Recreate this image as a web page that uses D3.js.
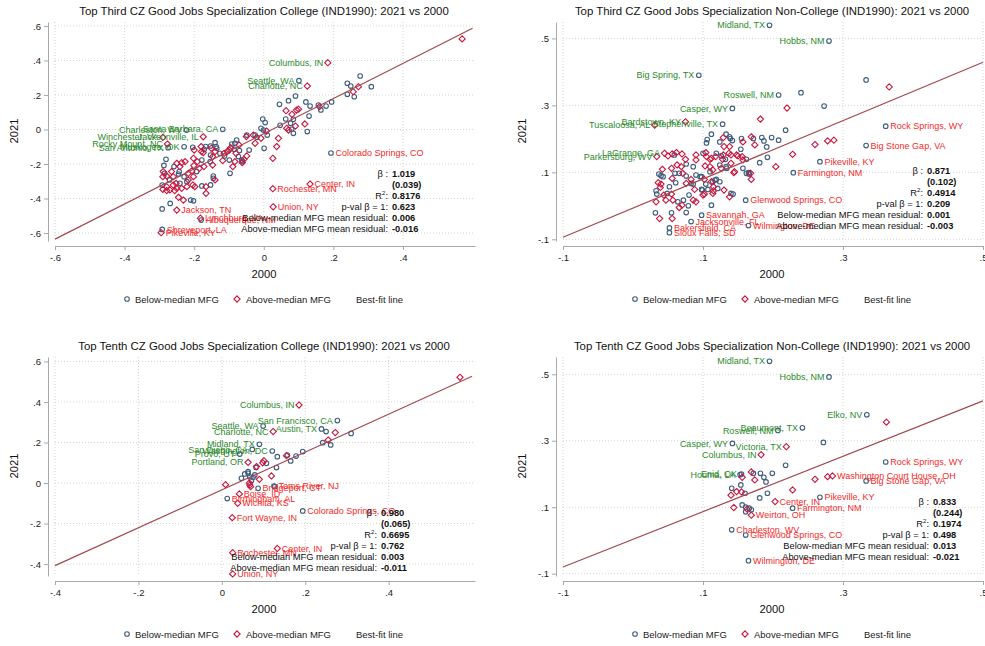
<!DOCTYPE html>
<html>
<head>
<meta charset="utf-8">
<script src="https://cdn.jsdelivr.net/npm/d3@7"></script>
<style>
  body { margin: 0; background: #fff; }
  svg { display: block; }
</style>
</head>
<body>
<svg id="chart" width="985" height="646"></svg>
<script>
// ---- data -------------------------------------------------------------
const titles = [
  "Top Third CZ Good Jobs Specialization College (IND1990): 2021 vs 2000",
  "Top Third CZ Good Jobs Specialization Non-College (IND1990): 2021 vs 2000",
  "Top Tenth CZ Good Jobs Specialization College (IND1990): 2021 vs 2000",
  "Top Tenth CZ Good Jobs Specialization Non-College (IND1990): 2021 vs 2000"
];
const xTitle = "2000";
const yTitle = "2021";
const legendLabels = ["Below-median MFG", "Above-median MFG", "Best-fit line"];
const statNames = ["β :", "", "R2:", "p-val β = 1:", "Below-median MFG mean residual:", "Above-median MFG mean residual:"];

const p1XTicks = [-0.6, -0.4, -0.2, 0, 0.2, 0.4];
const p1YTicks = [-0.6, -0.4, -0.2, 0, 0.2, 0.4, 0.6];
const p2XTicks = [-0.1, 0.1, 0.3, 0.5];
const p2YTicks = [-0.1, 0.1, 0.3, 0.5];
const p3XTicks = [-0.4, -0.2, 0, 0.2, 0.4];
const p3YTicks = [-0.4, -0.2, 0, 0.2, 0.4, 0.6];
const p4XTicks = [-0.1, 0.1, 0.3, 0.5];
const p4YTicks = [-0.1, 0.1, 0.3, 0.5];

const p1Stats = ["1.019", "(0.039)", "0.8176", "0.623", "0.006", "-0.016"];
const p2Stats = ["0.871", "(0.102)", "0.4914", "0.209", "0.001", "-0.003"];
const p3Stats = ["0.980", "(0.065)", "0.6695", "0.762", "0.003", "-0.011"];
const p4Stats = ["0.833", "(0.244)", "0.1974", "0.498", "0.013", "-0.021"];

// best-fit line end points [x, y]
const p1Fit = [[-0.6, -0.635], [0.6, 0.587]];
const p2Fit = [[-0.1, -0.094], [0.5, 0.429]];
const p3Fit = [[-0.4, -0.408], [0.6, 0.527]];
const p4Fit = [[-0.1, -0.080], [0.5, 0.420]];

// unlabeled CZs [x2000, y2021]
const p1Below = [
  [0.045,0.146],[0.071,0.167],[0.063,0.061],[-0.003,0.061],[0.004,0.04],[-0.008,0.007],[-0.025,-0.032],[-0.02,-0.045],[-0.049,-0.032],[0.001,-0.109],
  [-0.078,-0.061],[-0.083,-0.08],[-0.092,-0.084],[-0.085,-0.115],[-0.07,-0.122],[-0.113,-0.153],[-0.063,-0.177],[-0.073,-0.157],[-0.097,-0.254],[-0.126,-0.138],
  [-0.137,-0.099],[-0.14,-0.076],[-0.153,-0.148],[-0.154,-0.186],[-0.145,-0.27],[-0.153,-0.321],[-0.178,-0.327],[-0.193,-0.244],[-0.178,-0.177],[-0.171,-0.115],
  [-0.167,-0.099],[-0.204,-0.103],[-0.221,-0.302],[-0.241,-0.312],[-0.21,-0.409],[-0.202,-0.413],[-0.243,-0.244],[-0.258,-0.215],[-0.245,-0.258],[-0.229,-0.273],
  [-0.271,-0.292],[-0.285,-0.254],[-0.281,-0.173],[-0.287,-0.208],[-0.292,-0.322],[-0.292,-0.46],[-0.269,-0.428],
  [0.277,0.31],[0.24,0.268],[0.25,0.252],[0.309,0.248],[0.24,0.204],[0.26,0.19],[0.195,0.16],[0.179,0.136],[0.164,0.113],
  [0.157,0.142],[0.133,0.136],[0.121,0.16],[0.13,0.078],[0.125,-0.012],[0.091,0.194],[0.085,0.059],[0.077,0.036],[0.085,-0.022],[0.047,0.024],
  [-0.001,-0.003],[0.01,-0.032],[-0.042,-0.119],[-0.061,-0.186],[-0.099,-0.177],[-0.135,-0.109],[-0.153,-0.096],[0.08,0.001],[-0.145,-0.283]
];
const p1Above = [
  [0.064,0.109],[0.071,-0.003],[0.008,-0.009],[-0.008,-0.051],[0.042,-0.051],[0.037,-0.099],[0.026,-0.167],[-0.071,-0.09],[-0.095,-0.105],[-0.099,-0.119],
  [-0.105,-0.128],[-0.049,-0.153],[-0.057,-0.173],[-0.062,-0.192],[-0.089,-0.215],[-0.118,-0.18],[-0.14,-0.128],[-0.151,-0.109],[-0.147,-0.206],[-0.14,-0.292],
  [-0.166,-0.331],[-0.166,-0.37],[-0.185,-0.225],[-0.172,-0.215],[-0.191,-0.186],[-0.202,-0.167],[-0.179,-0.128],[-0.174,-0.134],[-0.18,-0.099],[-0.2,-0.119],
  [-0.201,-0.209],[-0.207,-0.24],[-0.217,-0.254],[-0.217,-0.292],[-0.202,-0.273],[-0.198,-0.331],[-0.204,-0.322],[-0.221,-0.331],[-0.236,-0.341],[-0.231,-0.409],
  [-0.245,-0.393],[-0.26,-0.273],[-0.252,-0.312],[-0.241,-0.215],[-0.236,-0.192],[-0.226,-0.186],[-0.25,-0.196],[-0.265,-0.244],[-0.26,-0.322],[-0.25,-0.341],
  [-0.256,-0.354],[-0.27,-0.35],[-0.279,-0.331],[-0.29,-0.273],[-0.289,-0.244],[-0.279,-0.27],[-0.29,-0.347],[-0.279,-0.354],
  [0.257,0.219],[0.272,0.248],[0.16,0.132],[0.118,0.032],[0.094,0.113],[0.1,0.118],[0.081,0.088],[0.091,0.02],[0.066,0.007],[0.57,0.525],
  [-0.025,-0.08],[-0.05,-0.041],[-0.03,-0.032],[-0.08,-0.138],[-0.083,-0.186],[-0.114,-0.138],[-0.147,-0.157]
];
// labeled CZs [name, x2000, y2021, MFG group]; "over" labels sit left, "under" labels right
const p1Over = [
  ["Columbus, IN",0.184,0.387,"A"],["Seattle, WA",0.101,0.283,"B"],["Charlotte, NC",0.125,0.252,"A"],
  ["Charleston, WV",-0.222,-0.003,"B"],["Santa Barbara, CA",-0.118,0.001,"B"],["Jacksonville, IL",-0.174,-0.042,"A"],
  ["Winchester, VA",-0.29,-0.045,"A"],["Rocky Mount, NC",-0.277,-0.084,"A"],["Muskogee, OK",-0.229,-0.1,"B"],["San Antonio, TX",-0.275,-0.105,"B"]
];
const p1Under = [
  ["Colorado Springs, CO",0.193,-0.136,"B"],["Center, IN",0.133,-0.316,"A"],["Rochester, MN",0.026,-0.343,"A"],
  ["Union, NY",0.027,-0.448,"A"],["Jackson, TN",-0.25,-0.467,"A"],["Lynchburg, VA",-0.182,-0.514,"A"],
  ["Albuquerque, NM",-0.18,-0.525,"B"],["Shreveport, LA",-0.292,-0.579,"B"],["Pikeville, KY",-0.295,-0.598,"A"]
];

const p2Below = [
  [0.112,0.214],[0.105,0.188],[0.106,0.198],[0.133,0.214],[0.139,0.201],[0.155,0.201],[0.172,0.201],[0.184,0.204],[0.187,0.194],[0.191,0.176],
  [0.198,0.204],[0.154,0.169],[0.162,0.139],[0.126,0.149],[0.132,0.139],[0.133,0.117],[0.124,0.122],[0.157,0.112],[0.162,0.097],[0.166,0.095],
  [0.119,0.157],[0.11,0.102],[0.1,0.157],[0.086,0.117],[0.076,0.125],[0.059,0.152],[0.066,0.097],[0.06,0.097],[0.061,0.069],[0.076,0.089],
  [0.09,0.092],[0.096,0.087],[0.104,0.065],[0.114,0.072],[0.119,0.079],[0.124,0.072],[0.121,0.052],[0.14,0.037],[0.107,0.049],[0.098,0.049],
  [0.083,0.067],[0.08,0.032],[0.072,0.017],[0.064,0.012],[0.049,0.037],[0.052,0.057],[0.043,0.087],[0.037,0.095],[0.04,0.09],[0.034,0.035],
  [0.033,0.045],[0.032,-0.021],[0.055,-0.021],[0.076,-0.02],[0.079,0.0],[0.112,0.002],[0.143,0.035],
  [0.138,0.206],[0.142,0.195],[0.124,0.191],[0.208,0.196],[0.218,0.226],[0.181,0.129],[0.192,0.145],[0.117,0.077],[0.099,0.047],
  [0.098,0.087],[0.086,0.065],[0.165,0.099],[0.134,0.112],[0.333,0.376],[0.273,0.298],[0.24,0.338]
];
const p2Above = [
  [0.129,0.204],[0.157,0.191],[0.169,0.206],[0.182,0.259],[0.174,0.182],[0.15,0.149],[0.156,0.147],[0.14,0.152],[0.138,0.177],[0.13,0.177],
  [0.128,0.139],[0.14,0.127],[0.126,0.112],[0.145,0.102],[0.169,0.079],[0.118,0.147],[0.112,0.142],[0.11,0.117],[0.103,0.119],[0.09,0.152],
  [0.09,0.137],[0.075,0.139],[0.07,0.155],[0.062,0.159],[0.056,0.155],[0.05,0.149],[0.063,0.122],[0.069,0.117],[0.071,0.097],[0.055,0.112],
  [0.056,0.082],[0.076,0.067],[0.083,0.079],[0.102,0.079],[0.115,0.057],[0.13,0.047],[0.114,0.037],[0.1,0.032],[0.088,0.049],[0.07,0.002],
  [0.057,0.017],[0.055,0.035],[0.047,0.017],[0.04,0.065],[0.042,0.109],[0.036,0.069],[0.033,0.012],[0.039,0.055],[0.044,0.032],[0.038,-0.038],
  [0.056,-0.038],[0.066,-0.005],[0.09,0.012],
  [0.104,0.159],[0.105,0.147],[0.11,0.139],[0.129,0.152],[0.137,0.157],[0.148,0.152],[0.157,0.137],[0.204,0.117],[0.228,0.154],[0.26,0.183],
  [0.278,0.194],[0.287,0.196],[0.168,0.097],[0.144,0.099],[0.114,0.107],[0.112,0.072],[0.115,0.045],[0.138,0.027],[0.102,0.035],[0.086,0.017],
  [0.366,0.355],[0.22,0.292]
];
const p2Over = [
  ["Midland, TX",0.195,0.539,"B"],["Hobbs, NM",0.28,0.492,"B"],["Big Spring, TX",0.094,0.39,"B"],["Roswell, NM",0.208,0.331,"B"],
  ["Casper, WY",0.142,0.291,"B"],["Stephenville, TX",0.128,0.244,"B"],["Bardstown, KY",0.075,0.251,"A"],["Tuscaloosa, AL",0.031,0.241,"A"],
  ["LaGrange, GA",0.045,0.157,"A"],["Parkersburg, WV",0.034,0.147,"A"]
];
const p2Under = [
  ["Rock Springs, WY",0.361,0.238,"B"],["Big Stone Gap, VA",0.333,0.18,"B"],["Pikeville, KY",0.267,0.132,"B"],
  ["Farmington, NM",0.229,0.099,"B"],["Glenwood Springs, CO",0.161,0.017,"B"],["Savannah, GA",0.098,-0.028,"B"],
  ["Jacksonville, FL",0.083,-0.047,"B"],["Wilmington, DE",0.165,-0.059,"B"],["Bakersfield, CA",0.052,-0.066,"B"],["Sioux Falls, SD",0.052,-0.08,"B"]
];

const p3Below = [
  [0.047,0.023],[0.063,0.056],[0.082,0.077],[0.067,0.031],[0.079,0.04],[0.071,0.012],[0.107,0.097],[0.131,0.076],[0.127,-0.018],[0.133,0.13],
  [0.157,0.138],[0.178,0.133],[0.194,0.155],[0.165,0.109],[0.25,0.254],[0.242,0.199],[0.261,0.188],[0.31,0.245],[0.063,0.048],[0.075,0.028],[0.055,0.045]
];
const p3Above = [
  [0.009,-0.008],[0.067,-0.01],[0.069,-0.018],[0.09,0.018],[0.119,0.035],[0.083,0.081],[0.098,0.1],[0.101,0.11],[0.155,0.135],
  [0.255,0.212],[0.272,0.249],[0.571,0.522],[0.066,0.0]
];
const p3Over = [
  ["Columbus, IN",0.185,0.385,"A"],["San Francisco, CA",0.277,0.308,"B"],["Austin, TX",0.239,0.267,"B"],["Seattle, WA",0.099,0.281,"B"],
  ["Charlotte, NC",0.123,0.254,"A"],["Midland, TX",0.09,0.191,"B"],["Washington, DC",0.121,0.158,"B"],["San Diego, CA",0.073,0.166,"B"],
  ["Provo, UT",0.043,0.143,"B"],["Portland, OR",0.063,0.102,"A"]
];
const p3Under = [
  ["Toms River, NJ",0.125,-0.015,"B"],["Bridgeport, CT",0.087,-0.026,"B"],["Boise, ID",0.042,-0.054,"A"],["Birmingham, AL",0.013,-0.077,"B"],
  ["Wichita, KS",0.038,-0.1,"A"],["Fort Wayne, IN",0.025,-0.171,"A"],["Colorado Springs, CO",0.194,-0.138,"B"],["Center, IN",0.133,-0.323,"A"],
  ["Rochester, MN",0.026,-0.344,"A"],["Union, NY",0.026,-0.449,"A"]
];

const p4Below = [
  [0.172,0.202],[0.182,0.202],[0.187,0.19],[0.19,0.176],[0.199,0.202],[0.218,0.226],[0.272,0.295],[0.141,0.157],[0.154,0.167],[0.16,0.142],
  [0.181,0.128],[0.192,0.142],[0.156,0.107],[0.161,0.1],[0.166,0.097],[0.169,0.092],[0.161,0.086]
];
const p4Above = [
  [0.362,0.356],[0.169,0.206],[0.174,0.182],[0.148,0.147],[0.155,0.146],[0.14,0.136],[0.228,0.152],[0.144,0.099],[0.163,0.094],
  [0.26,0.184],[0.278,0.192],[0.156,0.19]
];
const p4Over = [
  ["Midland, TX",0.195,0.539,"B"],["Hobbs, NM",0.28,0.492,"B"],["Elko, NV",0.334,0.378,"B"],["Beaumont, TX",0.242,0.339,"B"],
  ["Roswell, NM",0.207,0.331,"B"],["Casper, WY",0.142,0.292,"B"],["Victoria, TX",0.219,0.282,"A"],["Columbus, IN",0.183,0.258,"A"],
  ["Enid, OK",0.155,0.2,"B"],["Houma, LA",0.153,0.198,"B"]
];
const p4Under = [
  ["Rock Springs, WY",0.361,0.236,"B"],["Washington Court House, OH",0.285,0.194,"A"],["Big Stone Gap, VA",0.333,0.179,"B"],
  ["Pikeville, KY",0.267,0.13,"B"],["Center, IN",0.203,0.117,"A"],["Farmington, NM",0.228,0.097,"B"],["Weirton, OH",0.169,0.076,"A"],
  ["Charleston, WV",0.141,0.032,"B"],["Glenwood Springs, CO",0.161,0.016,"B"],["Wilmington, DE",0.165,-0.061,"B"]
];

// ---- layout -----------------------------------------------------------
const FONT = "Arial, 'Liberation Sans', Helvetica, sans-serif";
const BLUE = "#3f5e7e", RED = "#c8173f", GREEN = "#2b8a2b", LRED = "#f22a2a";
const FIT = "#a34a4f", AXIS = "#a8a8a8", GRID = "#d4d4d4";

const panels = [
  { title: titles[0], below: p1Below, above: p1Above, over: p1Over, under: p1Under, fit: p1Fit, stats: p1Stats, xt: p1XTicks, yt: p1YTicks },
  { title: titles[1], below: p2Below, above: p2Above, over: p2Over, under: p2Under, fit: p2Fit, stats: p2Stats, xt: p2XTicks, yt: p2YTicks },
  { title: titles[2], below: p3Below, above: p3Above, over: p3Over, under: p3Under, fit: p3Fit, stats: p3Stats, xt: p3XTicks, yt: p3YTicks },
  { title: titles[3], below: p4Below, above: p4Above, over: p4Over, under: p4Under, fit: p4Fit, stats: p4Stats, xt: p4XTicks, yt: p4YTicks }
];
// panel frames: offset, axis domains, stats block anchor
const frames = [
  { ox: 0,   oy: 0,   xd: [-0.6, 0.607], yd: [-0.646, 0.623], sx: 388, sy: 176.5 },
  { ox: 508, oy: 0,   xd: [-0.1, 0.5],   yd: [-0.105, 0.549], sx: 415, sy: 174 },
  { ox: 0,   oy: 335, xd: [-0.4, 0.607], yd: [-0.459, 0.622], sx: 377, sy: 181 },
  { ox: 508, oy: 335, xd: [-0.1, 0.5],   yd: [-0.107, 0.552], sx: 421, sy: 170 }
];

const fmtTick = d => d === 0 ? "0" : (d < 0 ? "-" : "") + Math.abs(d).toFixed(1).replace(/^0/, "");
const diamond = "M0,-3.1L3.1,0L0,3.1L-3.1,0Z";

const svg = d3.select("#chart").attr("font-family", FONT);

panels.forEach((p, i) => {
  const f = frames[i];
  const g = svg.append("g").attr("transform", `translate(${f.ox},${f.oy})`);

  const x = d3.scaleLinear().domain(f.xd).range([55, 475]);
  const y = d3.scaleLinear().domain(f.yd).range([241, 22]);

  // title
  g.append("text")
    .attr("x", 264).attr("y", 14.5)
    .attr("text-anchor", "middle")
    .attr("font-size", 11.4).attr("fill", "#111")
    .text(p.title);

  // dotted grid
  g.append("g").selectAll("line").data(p.yt).join("line")
    .attr("x1", 55).attr("x2", 475)
    .attr("y1", d => y(d)).attr("y2", d => y(d))
    .attr("stroke", GRID).attr("stroke-dasharray", "1,2");
  g.append("g").selectAll("line").data(p.xt).join("line")
    .attr("y1", 22).attr("y2", 241)
    .attr("x1", d => x(d)).attr("x2", d => x(d))
    .attr("stroke", GRID).attr("stroke-dasharray", "1,2");

  // axes
  const xa = g.append("g").attr("transform", "translate(0,246)")
    .call(d3.axisBottom(x).tickValues(p.xt).tickFormat(fmtTick).tickSize(4).tickSizeOuter(0).tickPadding(4));
  const ya = g.append("g").attr("transform", "translate(48,0)")
    .call(d3.axisLeft(y).tickValues(p.yt).tickFormat(fmtTick).tickSize(4).tickSizeOuter(0).tickPadding(3));
  [xa, ya].forEach(a => {
    a.attr("font-family", FONT).attr("font-size", 9.5);
    a.select(".domain").attr("stroke", AXIS);
    a.selectAll(".tick line").attr("stroke", AXIS);
    a.selectAll(".tick text").attr("fill", "#222");
  });

  // axis titles
  g.append("text")
    .attr("x", 264).attr("y", 278)
    .attr("text-anchor", "middle").attr("font-size", 11.2).attr("fill", "#111")
    .text(xTitle);
  g.append("text")
    .attr("transform", "translate(18,131) rotate(-90)")
    .attr("text-anchor", "middle").attr("font-size", 11.2).attr("fill", "#111")
    .text(yTitle);

  // markers
  const labeled = p.over.concat(p.under);
  const bluePts = p.below.concat(labeled.filter(d => d[3] === "B").map(d => [d[1], d[2]]));
  const redPts = p.above.concat(labeled.filter(d => d[3] === "A").map(d => [d[1], d[2]]));

  g.append("g").selectAll("circle").data(bluePts).join("circle")
    .attr("cx", d => x(d[0])).attr("cy", d => y(d[1])).attr("r", 2.3)
    .attr("fill", "none").attr("stroke", BLUE).attr("stroke-width", 1.1);
  g.append("g").selectAll("path").data(redPts).join("path")
    .attr("d", diamond)
    .attr("transform", d => `translate(${x(d[0])},${y(d[1])})`)
    .attr("fill", "none").attr("stroke", RED).attr("stroke-width", 1.1);

  // best-fit line
  g.append("path")
    .datum(p.fit)
    .attr("d", d3.line().x(d => x(d[0])).y(d => y(d[1])))
    .attr("fill", "none").attr("stroke", FIT).attr("stroke-width", 1.2);

  // marker labels
  g.append("g").selectAll("text").data(p.over).join("text")
    .attr("x", d => x(d[1]) - 4.5).attr("y", d => y(d[2])).attr("dy", "0.35em")
    .attr("text-anchor", "end").attr("font-size", 9).attr("fill", GREEN)
    .text(d => d[0]);
  g.append("g").selectAll("text").data(p.under).join("text")
    .attr("x", d => x(d[1]) + 4.5).attr("y", d => y(d[2])).attr("dy", "0.35em")
    .attr("text-anchor", "start").attr("font-size", 9).attr("fill", LRED)
    .text(d => d[0]);

  // stats block
  const sg = g.append("g").attr("font-size", 9.3).attr("fill", "#111");
  statNames.forEach((name, k) => {
    const yy = f.sy + k * 11;
    if (name === "R2:") {
      const t = sg.append("text").attr("x", f.sx).attr("y", yy).attr("text-anchor", "end");
      t.append("tspan").text("R");
      t.append("tspan").attr("font-size", 6).attr("dy", -4).text("2");
      t.append("tspan").attr("dy", 4).text(":");
    } else if (name) {
      sg.append("text").attr("x", f.sx).attr("y", yy).attr("text-anchor", "end").text(name);
    }
    sg.append("text").attr("x", f.sx + 4).attr("y", yy)
      .attr("font-weight", "bold").text(p.stats[k]);
  });

  // legend
  const lg = g.append("g").attr("font-size", 9.5).attr("fill", "#222");
  lg.append("circle").attr("cx", 127).attr("cy", 299).attr("r", 2.3)
    .attr("fill", "none").attr("stroke", BLUE).attr("stroke-width", 1.1);
  lg.append("text").attr("x", 135).attr("y", 302.5).text(legendLabels[0]);
  lg.append("path").attr("d", diamond).attr("transform", "translate(237,299)")
    .attr("fill", "none").attr("stroke", RED).attr("stroke-width", 1.1);
  lg.append("text").attr("x", 246).attr("y", 302.5).text(legendLabels[1]);
  lg.append("text").attr("x", 356).attr("y", 302.5).text(legendLabels[2]);
});
</script>
</body>
</html>
